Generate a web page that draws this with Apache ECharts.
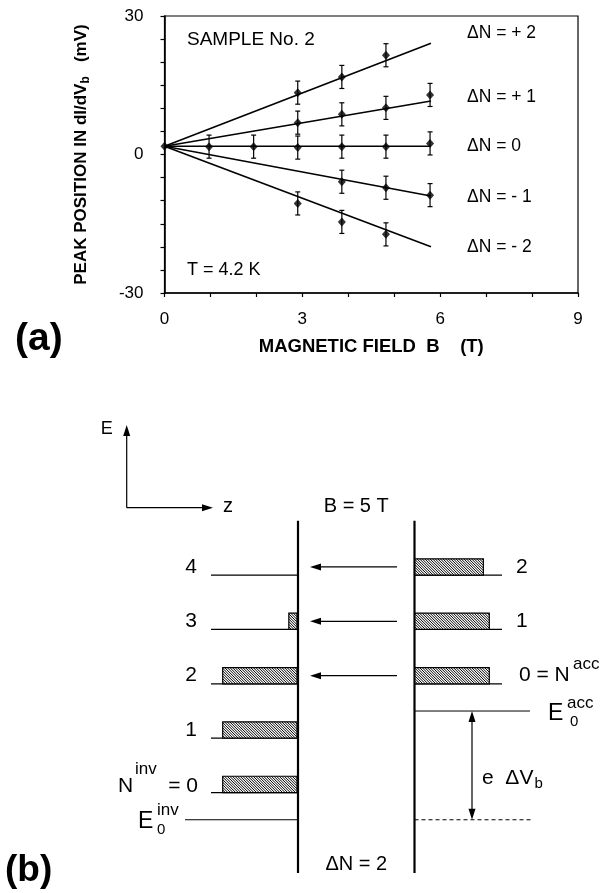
<!DOCTYPE html>
<html>
<head>
<meta charset="utf-8">
<style>
  html, body { margin: 0; padding: 0; background: #fff; }
  #chart { width: 613px; height: 893px; }
</style>
<script src="https://cdn.jsdelivr.net/npm/echarts@6/dist/echarts.min.js"></script>
</head>
<body>
<div id="chart"></div>
<script>
// ---- (a) peak position vs magnetic field ----
const fieldB = [0.97, 1.94, 2.9, 3.86, 4.82, 5.78]
const dNp2 = [null, null, 13.4, 16.8, 21.5, null]
const dNp1 = [null, null, 6.9, 8.7, 10.1, 12.9]
const dN0 = [1.7, 1.7, 1.5, 1.7, 1.7, 2.4]
const dNm1 = [null, null, null, -5.9, -7.2, -8.8]
const dNm2 = [null, null, -10.6, -14.6, -17.3, null]
const errBar = [2.5, 2.5, 2.5, 2.5, 2.5, 2.5]
const origin = [0, 1.8]
const fitEndB = 5.8
const fitEnd = [24.1, 11.6, 1.8, -9.0, -20.0]
const seriesNames = ['ΔN = + 2', 'ΔN = + 1', 'ΔN = 0', 'ΔN = - 1', 'ΔN = - 2']
const xTickLabels = [0, 3, 6, 9]
const yTickLabels = [-30, 0, 30]

// ---- (b) Landau levels, energy in units of hbar*omega_c ----
const invLevels = [0, 1, 2, 3, 4]
const invFill = [1, 1, 1, 0.11, 0]
const accLevels = [0, 1, 2]
const accFill = [1, 1, 0.92]
const E0inv = 0
const E0acc = 2

const FONT = '"Liberation Sans", Arial, Helvetica, sans-serif'
const chart = echarts.init(document.getElementById('chart'))

// layout of the schematic (horizontal unit ~ px, vertical unit = level spacing)
const lay = {
  barL: 298, barR: 414.5, barTop: 5.5, barBot: -0.98,
  invLineFrom: 211, invBoxRight: 297, accBoxLeft: 415, boxW: 74.3, accLineTo: 502,
  e0invFrom: 185, e0accTo: 530, dashTo: 532, boxH: 0.3,
  arrTail: 397, arrTip: 310, dblX: 472,
  axX: 126.7, axE: 5.74, axTop: 7.26, axRight: 213
}

const groups = [dNp2, dNp1, dN0, dNm1, dNm2]
const points = []
groups.forEach(g => g.forEach((v, i) => { if (v !== null) points.push([fieldB[i], v, errBar[i]]) }))

function renderErr(params, api) {
  const x = api.value(0), y = api.value(1), e = api.value(2)
  const t = api.coord([x, y + e]), b = api.coord([x, y - e])
  const st = { stroke: '#000', lineWidth: 1.2 }
  return {
    type: 'group',
    children: [
      { type: 'line', shape: { x1: t[0], y1: t[1], x2: b[0], y2: b[1] }, style: st },
      { type: 'line', shape: { x1: t[0] - 2.5, y1: t[1], x2: t[0] + 2.5, y2: t[1] }, style: st },
      { type: 'line', shape: { x1: b[0] - 2.5, y1: b[1], x2: b[0] + 2.5, y2: b[1] }, style: st }
    ]
  }
}

function renderDiagram(params, api) {
  const P = (x, e) => api.coord([x, e])
  const kids = []
  const line = (a, b, w, dash) => kids.push({
    type: 'line', shape: { x1: a[0], y1: a[1], x2: b[0], y2: b[1] },
    style: { stroke: '#000', lineWidth: w || 1.2, lineDash: dash || null }
  })
  const head = (tip, dx, dy) => {
    const L = 11, W = 3.5
    const bx = tip[0] - dx * L, by = tip[1] - dy * L
    kids.push({
      type: 'polygon',
      shape: { points: [tip, [bx - dy * W, by + dx * W], [bx + dy * W, by - dx * W]] },
      style: { fill: '#000' }
    })
  }
  const text = (pt, str, size, align, dx, dy) => kids.push({
    type: 'text', x: pt[0] + (dx || 0), y: pt[1] + (dy || 0),
    style: { text: str, fontSize: size, fontFamily: FONT, fill: '#000', align: align, verticalAlign: 'middle' }
  })
  const box = (x1, x2, e) => {
    const a = P(x1, e + lay.boxH), b = P(x2, e)
    const h = b[1] - a[1]
    kids.push({
      type: 'rect', shape: { x: a[0], y: a[1], width: b[0] - a[0], height: h },
      style: { fill: '#fff', stroke: '#000', lineWidth: 1.2 }
    })
    // hatch "\" strokes
    for (let x0 = a[0] - h; x0 < b[0]; x0 += 2.6) {
      const t0 = Math.max(0, a[0] - x0), t1 = Math.min(h, b[0] - x0)
      if (t1 <= t0) continue
      kids.push({
        type: 'line', shape: { x1: x0 + t0, y1: a[1] + t0, x2: x0 + t1, y2: a[1] + t1 },
        style: { stroke: '#000', lineWidth: 1 }
      })
    }
  }

  // E / z axes
  line(P(lay.axX, lay.axE), P(lay.axX, lay.axTop - 0.1))
  head(P(lay.axX, lay.axTop), 0, -1)
  line(P(lay.axX, lay.axE), P(lay.axRight - 5, lay.axE))
  head(P(lay.axRight, lay.axE), 1, 0)
  text(P(lay.axX, lay.axTop), 'E', 18, 'right', -14, 4)
  text(P(lay.axRight, lay.axE), 'z', 20, 'left', 10, -1)
  text(P((lay.barL + lay.barR) / 2, lay.axE), 'B = 5 T', 20, 'center', 0, -1)

  // barriers
  line(P(lay.barL, lay.barTop), P(lay.barL, lay.barBot), 2.2)
  line(P(lay.barR, lay.barTop), P(lay.barR, lay.barBot), 2.2)

  // inversion side levels
  invLevels.forEach((n, i) => {
    const e = E0inv + n + 0.5
    line(P(lay.invLineFrom, e), P(lay.barL, e))
    if (invFill[i] > 0) box(lay.invBoxRight - lay.boxW * invFill[i], lay.invBoxRight, e)
    if (n > 0) text(P(lay.invLineFrom, e + lay.boxH / 2), String(n), 21, 'right', -14, 0)
  })
  const n0 = P(lay.invLineFrom, E0inv + 0.5 + lay.boxH / 2)
  text(n0, 'N', 21, 'left', -93, 2)
  text(n0, 'inv', 17, 'left', -76, -15)
  text(n0, '= 0', 21, 'right', -13, 2)
  line(P(lay.e0invFrom, E0inv), P(lay.barL, E0inv), 1)
  const e0i = P(lay.e0invFrom, E0inv)
  text(e0i, 'E', 23, 'left', -47, 2)
  text(e0i, 'inv', 17, 'left', -28, -9)
  text(e0i, '0', 15, 'left', -28, 10)

  // accumulation side levels
  accLevels.forEach((n, i) => {
    const e = E0acc + n + 0.5
    line(P(lay.barR, e), P(lay.accLineTo, e))
    box(lay.accBoxLeft, lay.accBoxLeft + lay.boxW * accFill[i], e)
    // tunnelling arrow
    const ea = e + lay.boxH / 2
    line(P(lay.arrTail, ea), P(lay.arrTip + 8, ea))
    head(P(lay.arrTip, ea), -1, 0)
    if (n > 0) text(P(lay.accLineTo, ea), String(n), 21, 'left', 14, 0)
  })
  const a0 = P(lay.accLineTo, E0acc + 0.5 + lay.boxH / 2)
  text(a0, '0 = N', 21, 'left', 17, 0)
  text(a0, 'acc', 17, 'left', 71, -11)
  line(P(lay.barR, E0acc), P(lay.e0accTo, E0acc), 1)
  const e0a = P(lay.e0accTo, E0acc)
  text(e0a, 'E', 23, 'left', 18, 3)
  text(e0a, 'acc', 17, 'left', 37, -8)
  text(e0a, '0', 15, 'left', 40, 11)
  line(P(lay.barR, E0inv), P(lay.dashTo, E0inv), 1, [4, 3])

  // e dV_b double arrow
  line(P(lay.dblX, E0acc - 0.15), P(lay.dblX, E0inv + 0.15))
  head(P(lay.dblX, E0acc), 0, -1)
  head(P(lay.dblX, E0inv), 0, 1)
  kids.push({
    type: 'text', x: P(lay.dblX, 0)[0] + 10, y: P(lay.dblX, (E0acc + E0inv) / 2 - 0.23)[1],
    style: {
      text: 'e  ΔV{s|b}', fontSize: 21, fontFamily: FONT, fill: '#000', verticalAlign: 'middle',
      rich: { s: { fontSize: 15, fontFamily: FONT, padding: [12, 0, 0, 1] } }
    }
  })
  text(P((lay.barL + lay.barR) / 2, lay.barBot + 0.15), 'ΔN = 2', 20, 'center', 0, 0)

  return { type: 'group', children: kids }
}

const series = []
groups.forEach((g, k) => {
  series.push({
    type: 'line', xAxisIndex: 0, yAxisIndex: 0, symbol: 'none', silent: true,
    lineStyle: { color: '#000', width: 1.6 },
    data: [origin, [fitEndB, fitEnd[k]]]
  })
})
series.push({
  type: 'custom', xAxisIndex: 0, yAxisIndex: 0, renderItem: renderErr, silent: true,
  encode: { x: 0, y: 1 }, data: points, z: 3
})
series.push({
  type: 'scatter', xAxisIndex: 0, yAxisIndex: 0, symbol: 'diamond', symbolSize: [8, 9],
  itemStyle: { color: '#000' }, data: points.map(p => [p[0], p[1]]).concat([origin]), z: 4
})
series.push({
  type: 'custom', xAxisIndex: 1, yAxisIndex: 1, renderItem: renderDiagram, silent: true,
  clip: false, data: [[0, 0]]
})

const labelStyle = { fontFamily: FONT, fontSize: 17, color: '#000' }
const option = {
  animation: false,
  backgroundColor: '#fff',
  grid: [
    { left: 164.5, right: 35, top: 16, bottom: 600, show: true, borderColor: '#000', borderWidth: 1.2 },
    { left: 0, right: 0, top: 412, bottom: 8 }
  ],
  xAxis: [
    {
      gridIndex: 0, type: 'value', min: 0, max: 9, interval: 1,
      name: 'MAGNETIC FIELD  B    (T)', nameLocation: 'middle', nameGap: 44,
      nameTextStyle: { fontFamily: FONT, fontSize: 18.5, fontWeight: 'bold', color: '#000' },
      axisLine: { onZero: false, lineStyle: { color: '#000', width: 1.6 } },
      axisTick: { length: 4, lineStyle: { color: '#000', width: 1.2 } },
      axisLabel: Object.assign({ margin: 18, formatter: v => xTickLabels.includes(v) ? String(v) : '' }, labelStyle),
      splitLine: { show: false }
    },
    { gridIndex: 1, type: 'value', min: 0, max: 613, show: false }
  ],
  yAxis: [
    {
      gridIndex: 0, type: 'value', min: -30, max: 30, interval: 5,
      name: 'PEAK POSITION IN dI/dV{s|b}   (mV)', nameLocation: 'middle', nameGap: 73,
      nameTextStyle: {
        fontFamily: FONT, fontSize: 17, fontWeight: 'bold', color: '#000',
        rich: { s: { fontFamily: FONT, fontSize: 12, fontWeight: 'bold', padding: [9, 0, 0, 0] } }
      },
      axisLine: { onZero: false, lineStyle: { color: '#000', width: 1.6 } },
      axisTick: { length: 4, lineStyle: { color: '#000', width: 1.2 } },
      axisLabel: Object.assign({ margin: 21, formatter: v => yTickLabels.includes(v) ? String(v) : '' }, labelStyle),
      splitLine: { show: false }
    },
    { gridIndex: 1, type: 'value', min: -1.2, max: 7.5, show: false }
  ],
  graphic: [
    { type: 'text', x: 187, y: 40, style: { text: 'SAMPLE No. 2', fontFamily: FONT, fontSize: 19, fill: '#000', verticalAlign: 'middle' } },
    { type: 'text', x: 187, y: 270, style: { text: 'T = 4.2 K', fontFamily: FONT, fontSize: 18, fill: '#000', verticalAlign: 'middle' } },
    { type: 'text', x: 15, y: 339, style: { text: '(a)', fontFamily: FONT, fontSize: 39, fontWeight: 'bold', fill: '#000', verticalAlign: 'middle' } },
    { type: 'text', x: 5, y: 871, style: { text: '(b)', fontFamily: FONT, fontSize: 37, fontWeight: 'bold', fill: '#000', verticalAlign: 'middle' } }
  ].concat(seriesNames.map((s, k) => ({
    type: 'text', x: 467, y: [33, 97, 146, 197, 247][k],
    style: { text: s, fontFamily: FONT, fontSize: 17.5, fill: '#000', verticalAlign: 'middle' }
  }))),
  series: series
}
chart.setOption(option)
</script>
</body>
</html>
